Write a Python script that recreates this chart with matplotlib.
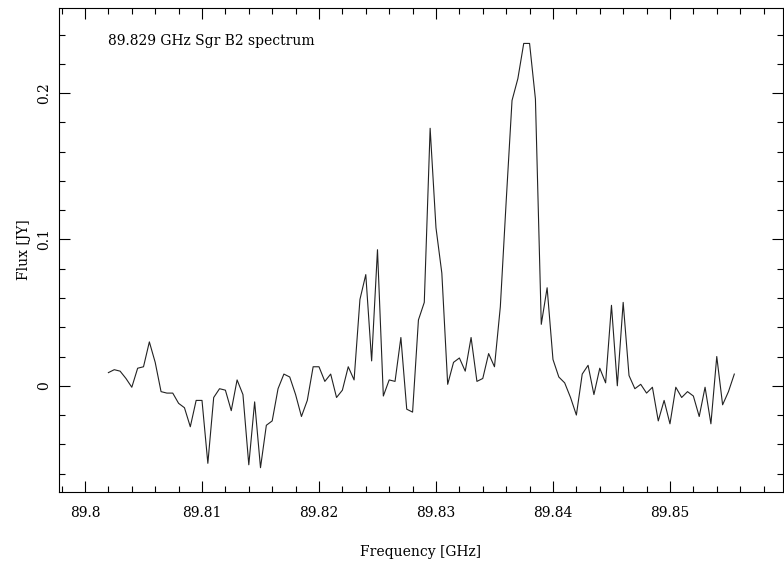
import matplotlib
matplotlib.use("Agg")
import matplotlib.pyplot as plt
from matplotlib.ticker import MultipleLocator, FuncFormatter

# channel frequencies [GHz], 0.5 MHz spacing
freq = [89.8020, 89.8025, 89.8030, 89.8035, 89.8040, 89.8045, 89.8050, 89.8055, 89.8060, 89.8065,
        89.8070, 89.8075, 89.8080, 89.8085, 89.8090, 89.8095, 89.8100, 89.8105, 89.8110, 89.8115,
        89.8120, 89.8125, 89.8130, 89.8135, 89.8140, 89.8145, 89.8150, 89.8155, 89.8160, 89.8165,
        89.8170, 89.8175, 89.8180, 89.8185, 89.8190, 89.8195, 89.8200, 89.8205, 89.8210, 89.8215,
        89.8220, 89.8225, 89.8230, 89.8235, 89.8240, 89.8245, 89.8250, 89.8255, 89.8260, 89.8265,
        89.8270, 89.8275, 89.8280, 89.8285, 89.8290, 89.8295, 89.8300, 89.8305, 89.8310, 89.8315,
        89.8320, 89.8325, 89.8330, 89.8335, 89.8340, 89.8345, 89.8350, 89.8355, 89.8360, 89.8365,
        89.8370, 89.8375, 89.8380, 89.8385, 89.8390, 89.8395, 89.8400, 89.8405, 89.8410, 89.8415,
        89.8420, 89.8425, 89.8430, 89.8435, 89.8440, 89.8445, 89.8450, 89.8455, 89.8460, 89.8465,
        89.8470, 89.8475, 89.8480, 89.8485, 89.8490, 89.8495, 89.8500, 89.8505, 89.8510, 89.8515,
        89.8520, 89.8525, 89.8530, 89.8535, 89.8540, 89.8545, 89.8550, 89.8555]

# flux [Jy]
flux = [0.009, 0.011, 0.010, 0.005, -0.001, 0.012, 0.013, 0.030, 0.016, -0.004,
        -0.005, -0.005, -0.012, -0.015, -0.028, -0.010, -0.010, -0.053, -0.008, -0.002,
        -0.003, -0.017, 0.004, -0.006, -0.054, -0.011, -0.056, -0.027, -0.024, -0.002,
        0.008, 0.006, -0.006, -0.021, -0.010, 0.013, 0.013, 0.003, 0.008, -0.008,
        -0.003, 0.013, 0.004, 0.059, 0.076, 0.017, 0.093, -0.007, 0.004, 0.003,
        0.033, -0.016, -0.018, 0.045, 0.057, 0.176, 0.108, 0.077, 0.001, 0.016,
        0.019, 0.010, 0.033, 0.003, 0.005, 0.022, 0.013, 0.054, 0.126, 0.195,
        0.210, 0.234, 0.234, 0.196, 0.042, 0.067, 0.018, 0.006, 0.002, -0.008,
        -0.020, 0.008, 0.014, -0.006, 0.012, 0.002, 0.055, 0.000, 0.057, 0.007,
        -0.002, 0.001, -0.005, -0.001, -0.024, -0.010, -0.026, -0.001, -0.008, -0.004,
        -0.007, -0.021, -0.001, -0.026, 0.020, -0.013, -0.004, 0.008]

plt.rcParams['font.family'] = 'DejaVu Serif'

fig = plt.figure(figsize=(7.84, 5.61), dpi=100)
ax = fig.add_axes([0.0753, 0.123, 0.9228, 0.8627])

ax.plot(freq, flux, color='#222222', lw=0.8)

ax.set_xlim(89.79778, 89.85962)
ax.set_ylim(-0.0726, 0.2582)

ax.xaxis.set_major_locator(MultipleLocator(0.01))
ax.xaxis.set_minor_locator(MultipleLocator(0.002))
ax.yaxis.set_major_locator(MultipleLocator(0.1))
ax.yaxis.set_minor_locator(MultipleLocator(0.02))
ax.xaxis.set_major_formatter(FuncFormatter(lambda v, p: '%g' % round(v, 4)))
ax.yaxis.set_major_formatter(FuncFormatter(lambda v, p: '%g' % round(v, 4)))

ax.tick_params(which='both', direction='in', top=True, right=True, width=0.8)
ax.tick_params(which='major', length=8, labelsize=10)
ax.tick_params(which='minor', length=4)
ax.tick_params(axis='x', pad=10)
ax.tick_params(axis='y', pad=6)
for lab in ax.get_yticklabels():
    lab.set_rotation(90)
    lab.set_va('center')

for s in ax.spines.values():
    s.set_linewidth(0.8)

ax.set_xlabel('Frequency [GHz]', fontsize=10, labelpad=18)
ax.set_ylabel('Flux [JY]', fontsize=10, labelpad=4)
ax.text(0.0677, 0.932, '89.829 GHz Sgr B2 spectrum', transform=ax.transAxes,
        fontsize=10, va='center', ha='left')

fig.savefig('out.png', dpi=100)
